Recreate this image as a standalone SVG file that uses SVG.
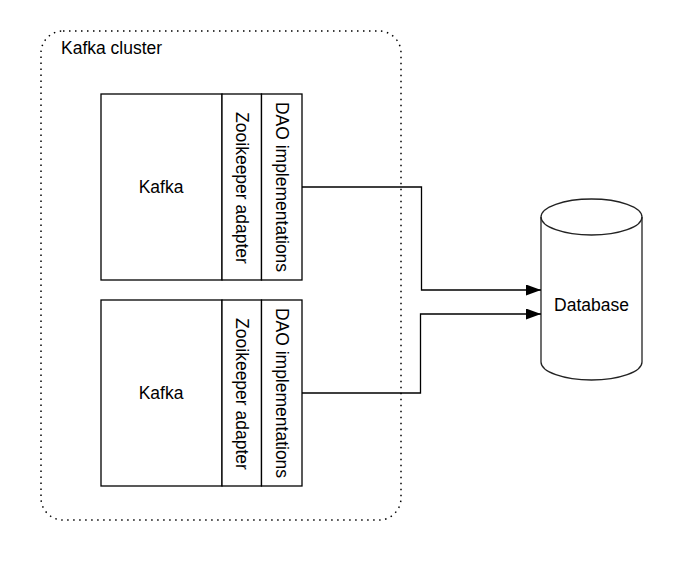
<svg xmlns="http://www.w3.org/2000/svg" width="681" height="561" viewBox="0 0 681 561">
<style>
text{font-family:"Liberation Sans",Arial,sans-serif;font-size:17.5px;fill:#000}
.box{fill:#fff;stroke:#000;stroke-width:1.3}
.conn{fill:none;stroke:#000;stroke-width:1.3}
.mid{text-anchor:middle;dominant-baseline:central}
</style>
<defs>
<marker id="arr" markerWidth="15" markerHeight="11" refX="15" refY="5.5" orient="auto" markerUnits="userSpaceOnUse">
<path d="M0,0 L15,5.5 L0,11 Z" fill="#000"/>
</marker>
</defs>
<rect width="681" height="561" fill="#fff"/>
<g id="cluster">
<rect x="41" y="31" width="360" height="489" rx="22" ry="22" fill="none" stroke="#000" stroke-width="1.5" stroke-dasharray="1.5 4.5"/>
<text x="61" y="54">Kafka cluster</text>
</g>
<g id="node1">
<rect class="box" x="101" y="94" width="121" height="186"/>
<rect class="box" x="222" y="94" width="39.5" height="186"/>
<rect class="box" x="261.5" y="94" width="40.5" height="186"/>
<text class="mid" x="161" y="187">Kafka</text>
<text class="mid" transform="translate(241.5,188) rotate(90)">Zooikeeper adapter</text>
<text class="mid" transform="translate(282,187) rotate(90)">DAO implementations</text>
</g>
<g id="node2">
<rect class="box" x="101" y="300" width="121" height="186"/>
<rect class="box" x="222" y="300" width="39.5" height="186"/>
<rect class="box" x="261.5" y="300" width="40.5" height="186"/>
<text class="mid" x="161" y="393">Kafka</text>
<text class="mid" transform="translate(241.5,394) rotate(90)">Zooikeeper adapter</text>
<text class="mid" transform="translate(282,393) rotate(90)">DAO implementations</text>
</g>
<g id="database">
<path d="M541,217 A50.5,18 0 0 1 642,217 L642,362 A50.5,18 0 0 1 541,362 Z" fill="#fff" stroke="#222" stroke-width="1.3"/>
<path d="M541,217 A50.5,18 0 0 0 642,217" fill="none" stroke="#222" stroke-width="1.3"/>
<text class="mid" x="591.5" y="305">Database</text>
</g>
<g id="connectors">
<path class="conn" d="M302,187 L421.5,187 L421.5,290 L541,290" marker-end="url(#arr)"/>
<path class="conn" d="M302,393 L420.5,393 L420.5,314 L541,314" marker-end="url(#arr)"/>
</g>
</svg>
